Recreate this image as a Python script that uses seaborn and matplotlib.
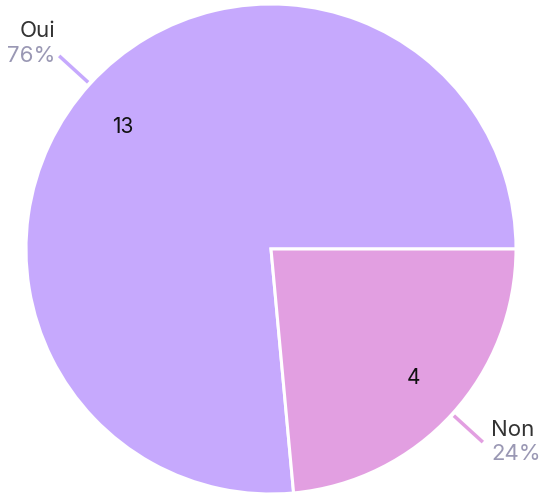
import numpy as np
import matplotlib
matplotlib.use("Agg")
import matplotlib.pyplot as plt
import seaborn as sns

categories = ["Oui", "Non"]
values = [13, 4]
colors = ["#c6a9fd", "#e29fe1"]

sns.set_theme(style="white")
plt.rcParams['font.family'] = ['Inter', 'DejaVu Sans']

W, H = 540, 495
fig = plt.figure(figsize=(W / 100, H / 100), dpi=100)
ax = fig.add_axes([0, 0, 1, 1])

scale = 245.0
cx, cy = 271.0, 249.0

total = sum(values)
wedges, _, autotexts = ax.pie(
    values, colors=colors, startangle=0, counterclock=True,
    autopct=lambda p: f"{int(round(p * total / 100))}", pctdistance=0.79,
    wedgeprops=dict(edgecolor="white", linewidth=2.2),
    textprops=dict(fontsize=15, color="#111111"),
    radius=1.0, center=(0, 0), frame=True,
)
ax.set_xlim(-cx / scale, (W - cx) / scale)
ax.set_ylim(-(H - cy) / scale, cy / scale)
ax.set_aspect('auto')
ax.axis('off')

# nudge inner value labels slightly toward the reference placement
angle_tweak = [3.0, 0.3]
for t, w, da in zip(autotexts, wedges, angle_tweak):
    mid = np.deg2rad((w.theta1 + w.theta2) / 2 + da)
    t.set_position((0.785 * np.cos(mid), 0.785 * np.sin(mid)))

for w, col, name, v in zip(wedges, colors, categories, values):
    mid = np.deg2rad((w.theta1 + w.theta2) / 2)
    x0, y0 = 1.01 * np.cos(mid), 1.01 * np.sin(mid)
    x1, y1 = 1.17 * np.cos(mid), 1.17 * np.sin(mid)
    ax.plot([x0, x1], [y0, y1], color=col, lw=2.5, solid_capstyle='butt')
    pct = f"{round(100 * v / total)}%"
    if np.cos(mid) < 0:
        ax.annotate(name, (x1, y1), xytext=(-3, 18), textcoords='offset points',
                    ha='right', va='center', fontsize=16, color="#333333")
        ax.annotate(pct, (x1, y1), xytext=(-3, 0), textcoords='offset points',
                    ha='right', va='center', fontsize=16, color="#9a98b4")
    else:
        ax.annotate(name, (x1, y1), xytext=(6, 9), textcoords='offset points',
                    ha='left', va='center', fontsize=16, color="#333333")
        ax.annotate(pct, (x1, y1), xytext=(6, -8.5), textcoords='offset points',
                    ha='left', va='center', fontsize=16, color="#9a98b4")

fig.savefig("out.png", dpi=100)
